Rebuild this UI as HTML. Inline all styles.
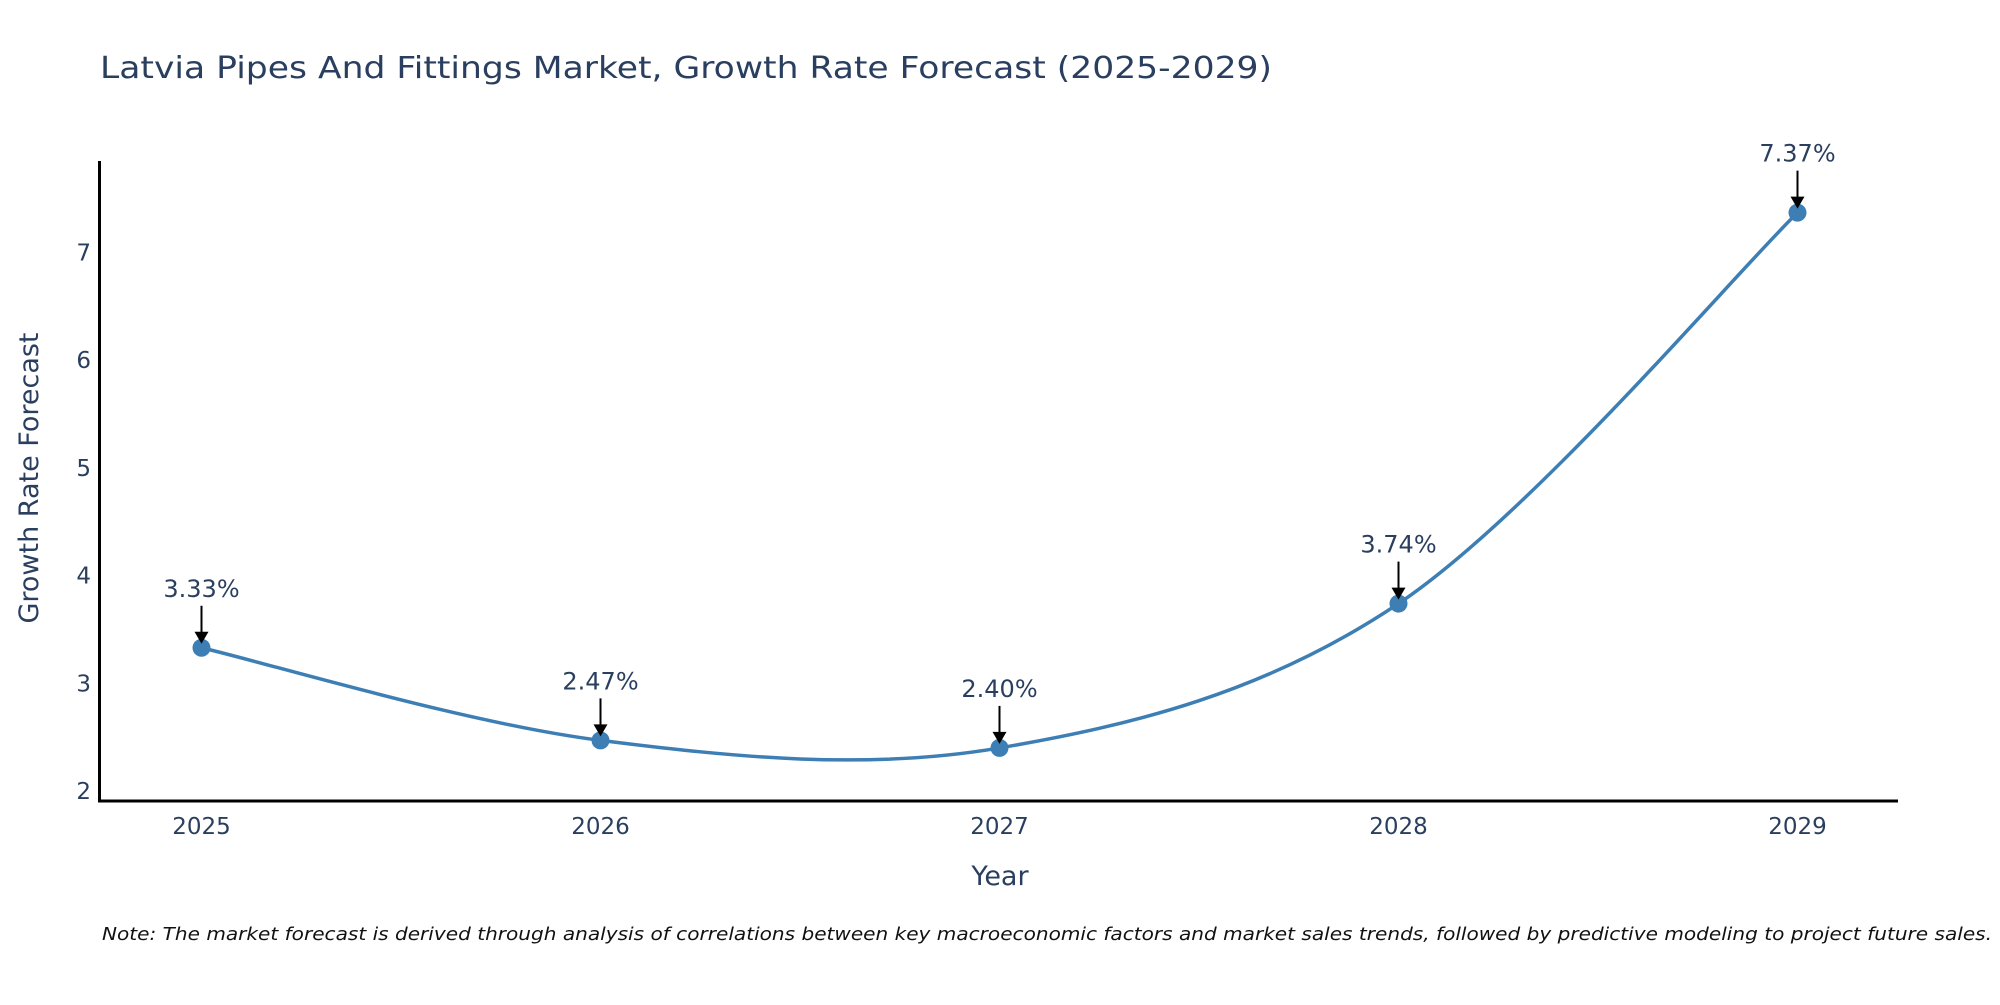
<!DOCTYPE html>
<html><head><meta charset="utf-8"><style>
body{margin:0;background:#fff}
svg text{font-family:"DejaVu Sans","Liberation Sans",sans-serif;fill:#2a3f5f}
</style></head><body>
<svg width="2000" height="1000" xmlns="http://www.w3.org/2000/svg">
<text x="100" y="78" font-size="30" textLength="1172" lengthAdjust="spacingAndGlyphs">Latvia Pipes And Fittings Market, Growth Rate Forecast (2025-2029)</text>
<g id="yticks"></g>
<g id="xticks"></g>
<line x1="99.5" y1="161" x2="99.5" y2="802" stroke="#000" stroke-width="3"/>
<line x1="98" y1="801" x2="1898" y2="801" stroke="#000" stroke-width="3"/>
<text transform="translate(38,478) rotate(-90)" text-anchor="middle" font-size="27">Growth Rate Forecast</text>
<text x="1000" y="885" text-anchor="middle" font-size="27">Year</text>
<g id="series"></g>
<g id="annots"></g>
<text x="102" y="940" font-size="18" font-style="italic" textLength="1890" lengthAdjust="spacingAndGlyphs" style="fill:#111">Note: The market forecast is derived through analysis of correlations between key macroeconomic factors and market sales trends, followed by predictive modeling to project future sales.</text>
</svg>
<script>
const years = [2025, 2026, 2027, 2028, 2029];
const rates = [3.33, 2.47, 2.40, 3.74, 7.37];
const labels = ["3.33%", "2.47%", "2.40%", "3.74%", "7.37%"];
const yTicks = [2, 3, 4, 5, 6, 7];

const NS = "http://www.w3.org/2000/svg";
function xs(v){ return 201.5 + (v - 2025) * 399; }
function ys(v){ return 791 - (v - 2) * 107.7; }
function mk(tag, attrs, parent){ const e=document.createElementNS(NS,tag); for(const k in attrs) e.setAttribute(k,attrs[k]); parent.appendChild(e); return e; }

const yt=document.getElementById('yticks');
yTicks.forEach(t=>{
  const e=mk('text',{x:91,y:ys(t)+8,'text-anchor':'end','font-size':23},yt);
  
  
  e.textContent=t;
});
const xt=document.getElementById('xticks');
years.forEach(y=>{
  const e=mk('text',{x:xs(y),y:834,'text-anchor':'middle','font-size':23},xt);
  
  
  e.textContent=y;
});

const pts = years.map((y,i)=>[xs(y), ys(rates[i])]);
let d = `M${pts[0][0]},${pts[0][1]}`;
for(let i=0;i<pts.length-1;i++){
  const p0=pts[Math.max(0,i-1)], p1=pts[i], p2=pts[i+1], p3=pts[Math.min(pts.length-1,i+2)];
  const t=1/6;
  const c1=[p1[0]+(p2[0]-p0[0])*t, p1[1]+(p2[1]-p0[1])*t];
  const c2=[p2[0]-(p3[0]-p1[0])*t, p2[1]-(p3[1]-p1[1])*t];
  d+=` C${c1[0]},${c1[1]} ${c2[0]},${c2[1]} ${p2[0]},${p2[1]}`;
}
const s=document.getElementById('series');
const line=mk('path',{d:d,fill:'none',stroke:'#3d7fb4','stroke-width':3.5},s);


pts.forEach(p=>{
  const c=mk('circle',{cx:p[0],cy:p[1],r:9,fill:'#3d7fb4'},s);
  
  
});

const a=document.getElementById('annots');
pts.forEach((p,i)=>{
  mk('line',{x1:p[0],y1:p[1]-42,x2:p[0],y2:p[1]-14,stroke:'#000','stroke-width':2},a);
  const h=mk('path',{d:`M${p[0]-7},${p[1]-16} L${p[0]+7},${p[1]-16} L${p[0]},${p[1]-4} Z`,fill:'#000'},a);
  
  
  const e=mk('text',{x:p[0],y:p[1]-51,'text-anchor':'middle','font-size':24},a);
  
  
  e.textContent=labels[i];
});
</script>
</body></html>
